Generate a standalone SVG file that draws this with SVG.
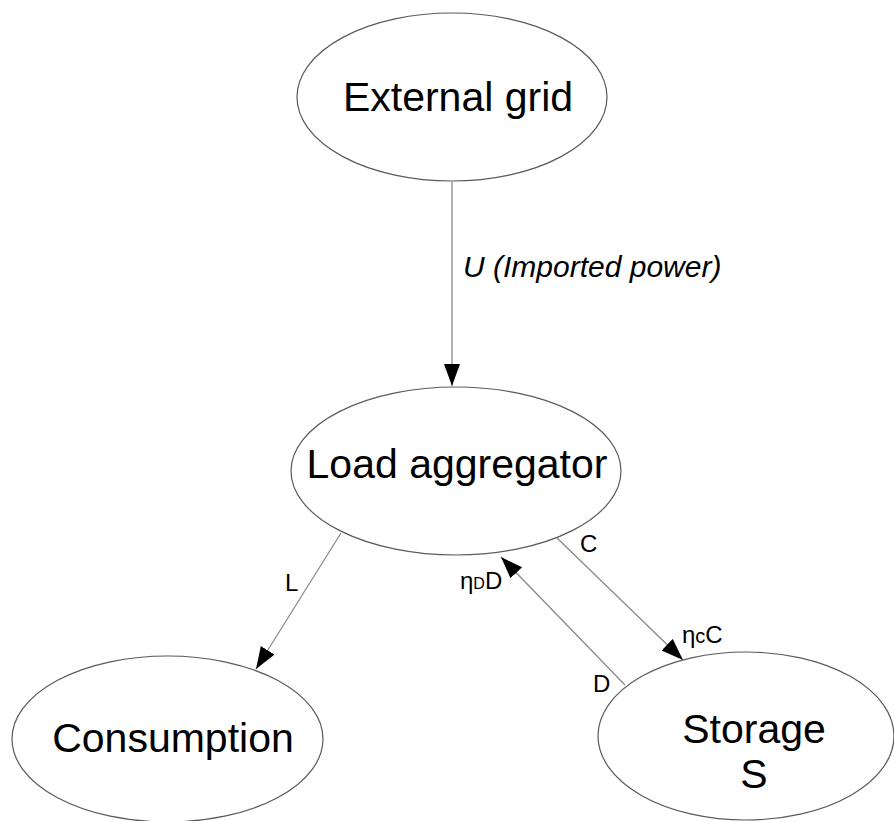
<svg xmlns="http://www.w3.org/2000/svg" width="894" height="821" viewBox="0 0 894 821">
<style>
.node{fill:#fff;stroke:#5a5a5a;stroke-width:1.2}
.lbl{font-family:"Liberation Sans",Arial,sans-serif;font-size:41px;fill:#000;text-anchor:middle}
.edge{stroke:#8a8a8a;stroke-width:1.3;fill:none;marker-end:url(#arr)}
.el{font-family:"Liberation Sans",Arial,sans-serif;font-size:24px;fill:#000}
.ul{font-size:30px;font-style:italic}
.sub{font-size:16px}
.subc{font-size:20px}
</style>
<defs>
<marker id="arr" markerUnits="userSpaceOnUse" markerWidth="24" markerHeight="18" refX="22" refY="8" orient="auto">
<path d="M0,0 L22,8 L0,16 Z" fill="#000"/>
</marker>
</defs>
<rect width="894" height="821" fill="#fff"/>
<g id="connectors">
<line class="edge" x1="452" y1="182" x2="452" y2="386"/>
<line class="edge" x1="341" y1="533" x2="256" y2="669"/>
<line class="edge" x1="557" y1="538" x2="683" y2="660"/>
<line class="edge" x1="625" y1="685" x2="501" y2="557"/>
<text class="el ul" x="463" y="277">U (Imported power)</text>
<text class="el" x="285" y="591">L</text>
<text class="el" x="580" y="552">C</text>
<text class="el" x="593" y="692">D</text>
<text class="el" x="460" y="589">η<tspan class="sub">D</tspan>D</text>
<text class="el" x="682" y="643">η<tspan class="subc">c</tspan>C</text>
</g>
<g id="external-grid">
<ellipse class="node" cx="452" cy="97" rx="155" ry="84"/>
<text class="lbl" x="458" y="111">External grid</text>
</g>
<g id="load-aggregator">
<ellipse class="node" cx="456" cy="471" rx="165" ry="84"/>
<text class="lbl" x="457" y="478">Load aggregator</text>
</g>
<g id="consumption">
<ellipse class="node" cx="167.5" cy="739" rx="155.5" ry="83"/>
<text class="lbl" x="173" y="752">Consumption</text>
</g>
<g id="storage">
<ellipse class="node" cx="746" cy="736" rx="148" ry="84"/>
<text class="lbl" x="754" y="743">Storage</text>
<text class="lbl" x="754" y="788">S</text>
</g>
</svg>
